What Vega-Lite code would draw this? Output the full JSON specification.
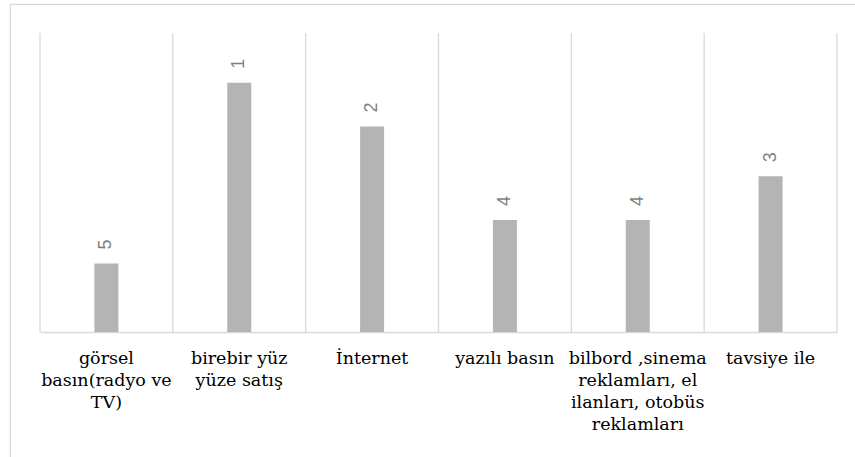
{
  "$schema": "https://vega.github.io/schema/vega-lite/v6.json",
  "width": 846,
  "height": 454,
  "padding": {"left": 10, "top": 4, "right": 0, "bottom": 0},
  "autosize": {"type": "none"},
  "background": "white",
  "config": {
    "view": {"stroke": "#d9d9d9", "strokeWidth": 1.2}
  },
  "data": {
    "values": [
      {"kanal": "görsel basın(radyo ve TV)", "deger": 11, "sira": 5},
      {"kanal": "birebir yüz yüze satış", "deger": 40, "sira": 1},
      {"kanal": "İnternet", "deger": 33, "sira": 2},
      {"kanal": "yazılı basın", "deger": 18, "sira": 4},
      {"kanal": "bilbord ,sinema reklamları, el ilanları, otobüs reklamları", "deger": 18, "sira": 4},
      {"kanal": "tavsiye ile", "deger": 25, "sira": 3}
    ]
  },
  "encoding": {
    "x": {
      "field": "kanal",
      "type": "nominal",
      "sort": null,
      "scale": {"range": [30, 827], "paddingInner": 0, "paddingOuter": 0},
      "axis": {
        "title": null,
        "offset": -126,
        "labelAngle": 0,
        "labelFont": "DejaVu Serif",
        "labelFontSize": 17.5,
        "labelLineHeight": 22,
        "labelColor": "#000000",
        "labelBaseline": "top",
        "labelPadding": 17,
        "labelLimit": 0,
        "ticks": false,
        "tickSize": 0,
        "grid": false,
        "domainColor": "#d9d9d9",
        "domainWidth": 1.3,
        "labelExpr": "datum.value == 'görsel basın(radyo ve TV)' ? ['görsel', 'basın(radyo ve', 'TV)'] : datum.value == 'birebir yüz yüze satış' ? ['birebir yüz', 'yüze satış'] : datum.value == 'bilbord ,sinema reklamları, el ilanları, otobüs reklamları' ? ['bilbord ,sinema', 'reklamları, el', 'ilanları, otobüs', 'reklamları'] : datum.value"
      }
    },
    "y": {
      "type": "quantitative",
      "scale": {"domain": [0, 48], "range": [328, 29], "nice": false, "zero": true},
      "axis": null
    }
  },
  "layer": [
    {
      "mark": {"type": "rule", "color": "#d9d9d9", "strokeWidth": 1.3},
      "encoding": {
        "x": {"field": "kanal", "type": "nominal", "sort": null, "bandPosition": 0},
        "y": {"datum": 0, "type": "quantitative"},
        "y2": {"datum": 48}
      }
    },
    {
      "transform": [{"filter": "datum.kanal == 'tavsiye ile'"}],
      "mark": {"type": "rule", "color": "#d9d9d9", "strokeWidth": 1.3},
      "encoding": {
        "x": {"field": "kanal", "type": "nominal", "sort": null, "bandPosition": 1},
        "y": {"datum": 0, "type": "quantitative"},
        "y2": {"datum": 48}
      }
    },
    {
      "mark": {"type": "bar", "color": "#b4b4b4", "width": 24},
      "encoding": {
        "y": {"field": "deger", "type": "quantitative"}
      }
    },
    {
      "mark": {"type": "text", "angle": 270, "align": "left", "baseline": "middle", "dx": 14, "font": "Liberation Sans", "fontSize": 18, "color": "#7f7f7f"},
      "encoding": {
        "y": {"field": "deger", "type": "quantitative"},
        "text": {"field": "sira", "type": "quantitative"}
      }
    }
  ]
}
